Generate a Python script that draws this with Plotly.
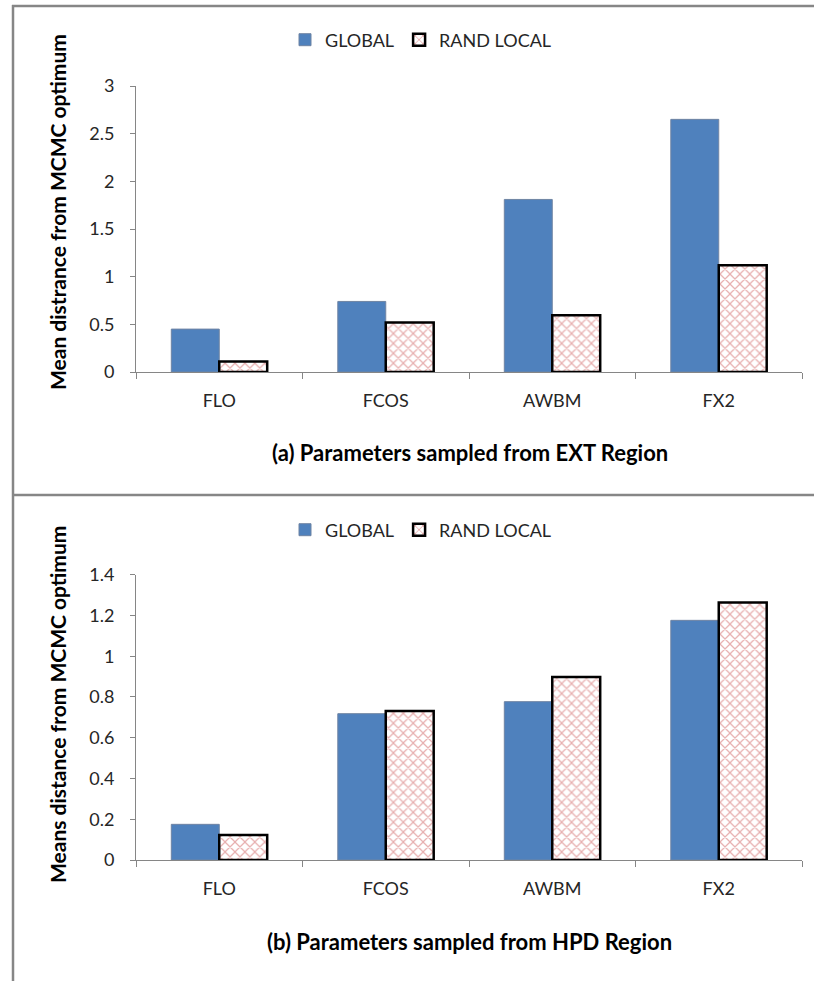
import plotly.graph_objects as go

# Data
categories = ["FLO", "FCOS", "AWBM", "FX2"]
series_names = ["GLOBAL", "RAND LOCAL"]

ext_global = [0.45, 0.74, 1.81, 2.65]
ext_rand_local = [0.11, 0.52, 0.595, 1.12]

hpd_global = [0.175, 0.718, 0.777, 1.176]
hpd_rand_local = [0.123, 0.731, 0.898, 1.264]

ext_ticks = [0, 0.5, 1, 1.5, 2, 2.5, 3]
hpd_ticks = [0, 0.2, 0.4, 0.6, 0.8, 1, 1.2, 1.4]

W, H = 814, 981
FONT = "Lato"
GRAY = "#868686"
BLUE = "#4F81BD"


def px_x(x):
    return x / W


def px_y(y):
    return 1 - y / H


def global_bar(y, xa, ya, legend):
    return go.Bar(
        x=categories, y=y, name=series_names[0], xaxis=xa, yaxis=ya,
        legend=legend,
        marker=dict(color=BLUE, line=dict(color="#6f84a3", width=1)),
    )


def rand_bar(y, xa, ya, legend):
    return go.Bar(
        x=categories, y=y, name=series_names[1], xaxis=xa, yaxis=ya,
        legend=legend,
        marker=dict(
            color="white",
            line=dict(color="black", width=2.5),
            pattern=dict(shape="x", fgcolor="#cf5f5f", bgcolor="white",
                         size=7, solidity=0.32),
        ),
    )


fig = go.Figure([
    global_bar(ext_global, "x", "y", "legend"),
    rand_bar(ext_rand_local, "x", "y", "legend"),
    global_bar(hpd_global, "x2", "y2", "legend2"),
    rand_bar(hpd_rand_local, "x2", "y2", "legend2"),
])

xdom = [px_x(136), px_x(802)]

xcommon = dict(
    type="category", showline=True, linecolor=GRAY, linewidth=1,
    ticks="outside", tickson="boundaries", ticklen=6, tickcolor=GRAY,
    tickfont=dict(family=FONT, size=18, color="#262626"),
    ticklabelstandoff=12, showgrid=False, zeroline=False, domain=xdom,
    fixedrange=True,
)
ycommon = dict(
    showline=True, linecolor=GRAY, linewidth=1, ticks="outside",
    ticklen=5, tickcolor=GRAY, showgrid=False, zeroline=False,
    tickfont=dict(family=FONT, size=18, color="#262626"),
    ticklabelstandoff=12,
)

legend_common = dict(
    orientation="h", xanchor="left", yanchor="middle",
    font=dict(family=FONT, size=18, color="#262626"),
    bgcolor="rgba(0,0,0,0)", itemwidth=30, traceorder="normal",
)

fig.update_layout(
    width=W, height=H,
    margin=dict(l=0, r=0, t=0, b=0, autoexpand=False),
    paper_bgcolor="white", plot_bgcolor="white",
    barmode="group", bargap=0.424, bargroupgap=0,
    xaxis=dict(**xcommon, anchor="y"),
    yaxis=dict(**ycommon, anchor="x", range=[0, 3], tickvals=ext_ticks,
               domain=[px_y(372), px_y(86)]),
    xaxis2=dict(**xcommon, anchor="y2"),
    yaxis2=dict(**ycommon, anchor="x2", range=[0, 1.4], tickvals=hpd_ticks,
                domain=[px_y(860), px_y(574.7)]),
    legend=dict(**legend_common, x=px_x(285), y=px_y(40)),
    legend2=dict(**legend_common, x=px_x(285), y=px_y(530)),
    showlegend=True,
)

annotations = [
    dict(text="Mean distrance from MCMC optimum", x=px_x(57), y=px_y(212),
         textangle=-90),
    dict(text="Means distance from MCMC optimum", x=px_x(57), y=px_y(705),
         textangle=-90),
    dict(text="(a) Parameters sampled from EXT Region", x=px_x(470),
         y=px_y(452)),
    dict(text="(b) Parameters sampled from HPD Region", x=px_x(470),
         y=px_y(941)),
]
for i, a in enumerate(annotations):
    fig.add_annotation(
        xref="paper", yref="paper", showarrow=False,
        xanchor="center", yanchor="middle",
        font=dict(family=FONT, size=21 if i < 2 else 22, color="black",
                  weight="bold"), **a,
    )

# Chart frames
frame = dict(type="line", xref="paper", yref="paper",
             line=dict(color=GRAY, width=2.5))
fig.add_shape(**frame, x0=px_x(13), x1=px_x(13), y0=0, y1=px_y(5))
fig.add_shape(**frame, x0=px_x(12), x1=1, y0=px_y(6), y1=px_y(6))
fig.add_shape(**frame, x0=px_x(12), x1=1, y0=px_y(495), y1=px_y(495))

fig.write_html("out.html")
